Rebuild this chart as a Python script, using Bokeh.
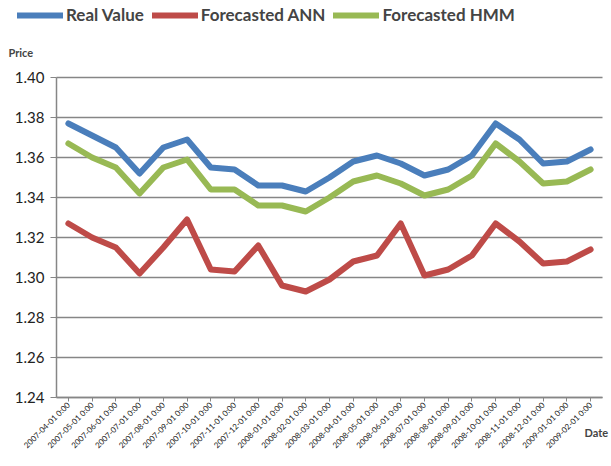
from bokeh.plotting import figure
from bokeh.models import (Range1d, FixedTicker, NumeralTickFormatter, Legend, LegendItem, Label,
                          ColumnDataSource, LinearAxis)
from bokeh.embed import file_html
from bokeh.resources import INLINE
import math

dates = ["2007-04-01 0:00", "2007-05-01 0:00", "2007-06-01 0:00", "2007-07-01 0:00",
         "2007-08-01 0:00", "2007-09-01 0:00", "2007-10-01 0:00", "2007-11-01 0:00",
         "2007-12-01 0:00", "2008-01-01 0:00", "2008-02-01 0:00", "2008-03-01 0:00",
         "2008-04-01 0:00", "2008-05-01 0:00", "2008-06-01 0:00", "2008-07-01 0:00",
         "2008-08-01 0:00", "2008-09-01 0:00", "2008-10-01 0:00", "2008-11-01 0:00",
         "2008-12-01 0:00", "2009-01-01 0:00", "2009-02-01 0:00"]

real_value = [1.377, 1.371, 1.365, 1.352, 1.365, 1.369, 1.355, 1.354, 1.346, 1.346, 1.343, 1.350,
              1.358, 1.361, 1.357, 1.351, 1.354, 1.361, 1.377, 1.369, 1.357, 1.358, 1.364]
forecast_ann = [1.327, 1.320, 1.315, 1.302, 1.315, 1.329, 1.304, 1.303, 1.316, 1.296, 1.293, 1.299,
                1.308, 1.311, 1.327, 1.301, 1.304, 1.311, 1.327, 1.318, 1.307, 1.308, 1.314]
forecast_hmm = [1.367, 1.360, 1.355, 1.342, 1.355, 1.359, 1.344, 1.344, 1.336, 1.336, 1.333, 1.340,
                1.348, 1.351, 1.347, 1.341, 1.344, 1.351, 1.367, 1.358, 1.347, 1.348, 1.354]
y_ticks = [1.24, 1.26, 1.28, 1.30, 1.32, 1.34, 1.36, 1.38, 1.40]

FONT = "Lato"
GRAY = "#868686"

W, H = 611, 458
n = len(dates)
idx = list(range(n))
# plot area inside the canvas: left 56px, right 9px, top 77px, bottom 61px
LEFT, RIGHT, TOP, BOTTOM = 56, 9, 77, 61
px_per_cat = (W - LEFT - RIGHT) / n
y_lo, y_hi = y_ticks[0], y_ticks[-1]
px_per_y = (H - TOP - BOTTOM) / (y_hi - y_lo)
x_range = Range1d(-0.5 - LEFT / px_per_cat, n - 0.5 + RIGHT / px_per_cat)
y_range = Range1d(y_lo - BOTTOM / px_per_y, y_hi + TOP / px_per_y)

p = figure(width=W, height=H, x_range=x_range, y_range=y_range, title=None,
           x_axis_location=None, y_axis_location=None,
           output_backend="svg", toolbar_location=None,
           min_border_left=0, min_border_right=0, min_border_top=0, min_border_bottom=0)
p.outline_line_color = None
p.grid.visible = False

# horizontal gridlines spanning the category area only
p.segment(x0=[-0.5] * len(y_ticks), x1=[n - 0.5] * len(y_ticks), y0=y_ticks, y1=y_ticks,
          line_color=GRAY, line_width=1.5)

src = ColumnDataSource(dict(x=idx, real=real_value, ann=forecast_ann, hmm=forecast_hmm))
r1 = p.line("x", "real", source=src, line_color="#4A7EBB", line_width=6, line_cap="round", line_join="round")
r2 = p.line("x", "ann", source=src, line_color="#BE4B48", line_width=6, line_cap="round", line_join="round")
r3 = p.line("x", "hmm", source=src, line_color="#98B954", line_width=6, line_cap="round", line_join="round")

yaxis = LinearAxis(ticker=FixedTicker(ticks=y_ticks), formatter=NumeralTickFormatter(format="0.00"),
                   fixed_location=-0.5, bounds=(y_lo, y_hi))
xaxis = LinearAxis(ticker=FixedTicker(ticks=idx), fixed_location=y_lo, bounds=(-0.5, n - 0.5),
                   major_label_overrides={i: d for i, d in enumerate(dates)})
for ax in (xaxis, yaxis):
    ax.axis_line_color = GRAY
    ax.axis_line_width = 1.5
    ax.major_tick_line_color = GRAY
    ax.major_tick_in = 0
    ax.minor_tick_line_color = None
    ax.major_label_text_font = FONT
    ax.major_label_text_color = "#222222"
yaxis.major_tick_out = 6
yaxis.major_label_text_font_size = "15px"
yaxis.major_label_standoff = 6
xaxis.major_tick_out = 4
xaxis.major_label_text_font_size = "8px"
xaxis.major_label_orientation = math.pi / 4
xaxis.major_label_standoff = 2
p.add_layout(yaxis, "left")
p.add_layout(xaxis, "below")

legend = Legend(items=[LegendItem(label="Real Value", renderers=[r1]),
                       LegendItem(label="Forecasted ANN", renderers=[r2]),
                       LegendItem(label="Forecasted HMM", renderers=[r3])],
                orientation="horizontal", location=(17, H - 25),
                label_text_font=FONT, label_text_font_style="bold", label_text_font_size="17px",
                glyph_width=46, glyph_height=20, label_standoff=3, spacing=8,
                padding=0, margin=0, border_line_color=None, background_fill_alpha=0)
p.add_layout(legend, "center")

p.add_layout(Label(x=8, y=H - 52, x_units="screen", y_units="screen", text="Price",
                   text_font=FONT, text_font_style="bold", text_font_size="11px", text_baseline="middle"))
p.add_layout(Label(x=584, y=H - 432, x_units="screen", y_units="screen", text="Date",
                   text_font=FONT, text_font_style="bold", text_font_size="11px", text_baseline="middle"))

open("out.html", "w").write(file_html(p, INLINE))
